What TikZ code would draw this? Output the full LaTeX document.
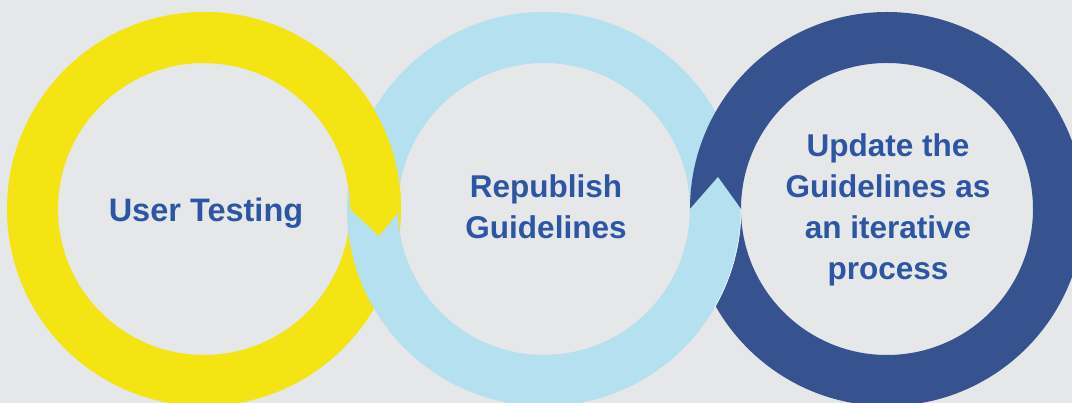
\documentclass[tikz,border=0pt]{standalone}
\usepackage{fontspec}
\setmainfont{Liberation Sans}
\usepackage{xcolor}
\definecolor{bg_grey}{RGB}{230,231,233}
\definecolor{ring_yellow}{RGB}{243,228,18}
\definecolor{ring_light}{RGB}{181,224,239}
\definecolor{ring_dark}{RGB}{54,82,143}
\definecolor{txt_blue}{RGB}{44,86,164}
\usetikzlibrary{calc}
\tikzset{label_txt/.style={text=txt_blue,font=\bfseries\fontsize{31.5}{41}\selectfont,align=center,inner sep=0pt}}

\begin{document}
\begin{tikzpicture}[x=1pt,y=1pt]
            \useasboundingbox (0,0) rectangle (1072,403);
            \fill[bg_grey] (0,0) rectangle (1072,403); %背景
            \clip (0,0) rectangle (1072,403);
            \coordinate (Y) at (204,194);
            \coordinate (L) at (544,194);
            \coordinate (D) at (887,194);
            %輪
            \fill[ring_yellow,even odd rule] (Y) circle (197) (Y) circle (146);
            \fill[ring_light,even odd rule] (L) circle (197) (L) circle (146);
            \fill[ring_yellow] ($(Y)+(90:146)$) arc[start angle=90,end angle=0,radius=146]--($(Y)+(175,-27)$)--($(Y)+(0:197)$) arc[start angle=0,end angle=90,radius=197]--cycle; %矢印
            \fill[ring_dark,even odd rule] (D) circle (197) (D) circle (146);
            \fill[ring_light] ($(L)+(-90:146)$) arc[start angle=-90,end angle=0,radius=146]--($(L)+(174,32)$)--($(L)+(0:197)$) arc[start angle=0,end angle=-90,radius=197]--cycle; %矢印
            \draw[white,line width=0.6pt] ($(L)+(-30:197)$) arc[start angle=-30,end angle=0,radius=197];
            %文字
            \node[label_txt,anchor=base,font=\bfseries\fontsize{32.5}{41}\selectfont] (testing) at (206,181) {User Testing};
            \node[label_txt] (republish) at (546,196) {Republish\\Guidelines};
            \node[label_txt] (update) at (888,193) {Update the\\Guidelines as\\an iterative\\process};
        \end{tikzpicture}
\end{document}
